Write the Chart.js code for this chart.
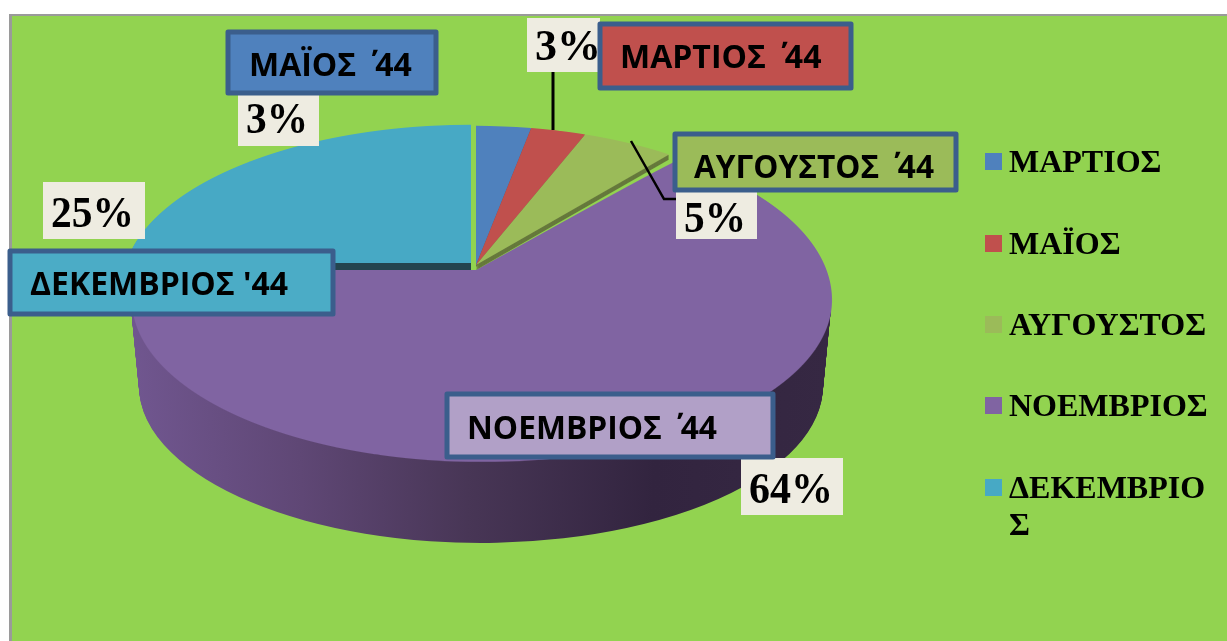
<!DOCTYPE html>
<html><head><meta charset="utf-8">
<style>html,body{margin:0;padding:0;background:#fff}canvas{display:block}</style>
<script src="https://cdn.jsdelivr.net/npm/chart.js@4"></script>
</head><body><canvas id="c" width="1227" height="641"></canvas>
<script>
const categories = ['ΜΑΡΤΙΟΣ','ΜΑΪΟΣ','ΑΥΓΟΥΣΤΟΣ','ΝΟΕΜΒΡΙΟΣ','ΔΕΚΕΜΒΡΙΟΣ'];
const calloutTexts = ['ΜΑΡΤΙΟΣ ΄\u2009\u200944','ΜΑΪΟΣ ΄\u2009\u200944','ΑΥΓΟΥΣΤΟΣ ΄\u2009\u200944','ΝΟΕΜΒΡΙΟΣ ΄\u2009\u200944',"ΔΕΚΕΜΒΡΙΟΣ '44"];
const percentages = [3,3,5,64,25];
const sliceColors = ['#4F81BD','#C0504D','#9BBB59','#8064A2','#47A9C5'];
const wallColors = ['#3c6591','#8f3a38','#66793C','#8064A2','#24454F'];
const legendLines = [['ΜΑΡΤΙΟΣ'],['ΜΑΪΟΣ'],['ΑΥΓΟΥΣΤΟΣ'],['ΝΟΕΜΒΡΙΟΣ'],['ΔΕΚΕΜΒΡΙΟ','Σ']];

const upper = {ax:476,ay:265,A:338,B:160,a:0.15};
const sliceGeom = [
  {...upper,wall:2},{...upper,wall:2},{...upper,wall:5},
  {ax:480,ay:270,A:341,B:149,a:0.223,wall:0,up:{ax:476,A:338,B:160,a:0.15},rim:{cx:482,cy:300,rx:350,ryUp:170,ryDown:162}},
  {ax:471,ay:263,A:345,B:159,a:0.15,wall:7}
];
const percentBoxes = [
  {x:527,y:18,w:73,h:54,tx:535,ty:60,tw:66},
  {x:238,y:95,w:81,h:51,tx:246,ty:133,tw:62},
  {x:676,y:190,w:81,h:49,tx:684,ty:232,tw:62},
  {x:741,y:458,w:102,h:57,tx:749,ty:503,tw:84},
  {x:43,y:182,w:102,h:57,tx:51,ty:227,tw:83}
];
const callouts = [
  {x:600,y:24,w:251,h:64,tx:620,ty:69,tw:203,fill:'#C0504D'},
  {x:228,y:32,w:208,h:61,tx:249,ty:77,tw:165,fill:'#4F81BD'},
  {x:675,y:134,w:281,h:56,tx:694,ty:179,tw:240,fill:'#9BBB59'},
  {x:447,y:394,w:326,h:63,tx:467,ty:440,tw:250,fill:'#B1A0C7'},
  {x:10,y:251,w:323,h:63,tx:30,ty:296,tw:258,fill:'#4BACC6'}
];
const legendY = [153,235,316,397,479];

function withColor(el,color,fn){
  const base=el.options;
  el.options=Object.assign({},base,{backgroundColor:color});
  fn(); el.options=base;
}
function drawProjected(ctx,el,g,shift,W){
  const R=el.outerRadius,px=el.x,py=el.y,u=g.up;
  const topM=u||g;
  const top=Math.floor(g.ay-topM.B/(1+topM.a))-1, bot=Math.ceil(g.ay+g.B/(1-g.a))+1;
  for(let row=top;row<=bot;row++){
    const dY=row+0.5-g.ay, m=(u&&dY<0)?u:g;
    const v=dY/(m.B+m.a*dY), w=1-m.a*v;
    let sx=m.A/(w*R), ax=m.ax;
    const sy=m.B/(w*w*R);
    if(g.rim){
      const r=g.rim, e=(row+0.5-r.cy)/(row<r.cy?r.ryUp:r.ryDown);
      const half0=r.rx*Math.sqrt(Math.max(0,1-e*e));
      ax=dY<0?u.ax:u.ax+(r.cx-u.ax)*Math.min(1,dY/30);
      const uu=Math.sqrt(Math.max(0.0025,1-v*v));
      sx=Math.min((half0+(r.cx-ax))/uu/R, 1.6*m.A/R);
    }
    ctx.save();
    ctx.beginPath();ctx.rect(0,row+shift,W,1);ctx.clip();
    ctx.setTransform(sx,0,0,sy,ax-px*sx,row+0.5+shift-(py+R*v)*sy);
    el.draw(ctx);
    ctx.restore();
  }
}
const scene = {
  id:'scene',
  beforeDraw(chart){
    const c=chart.ctx,W=chart.width,H=chart.height;
    c.save();
    c.fillStyle='#fff';c.fillRect(0,0,W,H);
    c.fillStyle='#9a9a9a';c.fillRect(9,14,W-9,H-14);
    c.fillStyle='#92D350';c.fillRect(12,16,W-12,H-16);
    c.restore();
  },
  beforeDatasetsDraw(chart){
    const c=chart.ctx,W=chart.width,H=chart.height;
    const arcs=chart.getDatasetMeta(0).data;
    const p=arcs[3],R=p.outerRadius;
    const grad=c.createLinearGradient(p.x-R,0,p.x+R,0);
    grad.addColorStop(0,'#70568f');grad.addColorStop(0.24,'#5f4775');
    grad.addColorStop(0.48,'#483656');grad.addColorStop(0.75,'#32243f');grad.addColorStop(1,'#362843');
    c.save();
    c.beginPath();c.rect(0,312,W,H-312);c.clip();
    withColor(p,grad,()=>{
      for(let d=81;d>=1;d--){
        const rx=350-8*d/81, ry=157, sx=rx/R, sy=ry/R;
        c.save();
        c.setTransform(sx,0,0,sy,481-p.x*sx,305+d-p.y*sy);
        p.draw(c);
        c.restore();
      }
    });
    c.restore();
    drawProjected(c,p,sliceGeom[3],0,W);
    [4,0,1,2].forEach(i=>{
      const el=arcs[i],g=sliceGeom[i];
      withColor(el,wallColors[i],()=>{
        for(let d=g.wall;d>=1;d--) drawProjected(c,el,g,d,W);
      });
      drawProjected(c,el,g,0,W);
    });
    return false;
  },
  afterDraw(chart){
    const c=chart.ctx;
    c.save();
    c.strokeStyle='#000';c.lineWidth=3;
    c.beginPath();c.moveTo(553,72);c.lineTo(553,130);c.stroke();
    c.lineWidth=2.5;
    c.beginPath();c.moveTo(631,141);c.lineTo(664,199);c.lineTo(677,199);c.stroke();
    c.textBaseline='alphabetic';c.textAlign='left';
    percentages.forEach((v,i)=>{
      const b=percentBoxes[i];
      c.fillStyle='#EEECE1';c.fillRect(b.x,b.y,b.w,b.h);
      c.fillStyle='#000';c.font='bold 45px "Liberation Serif"';
      c.fillText(v+'%',b.tx,b.ty,b.tw);
    });
    calloutTexts.forEach((t,i)=>{
      const b=callouts[i];
      c.fillStyle=b.fill;c.fillRect(b.x,b.y,b.w,b.h);
      c.strokeStyle='#3B5E8C';c.lineWidth=5;c.lineJoin='round';c.strokeRect(b.x,b.y,b.w,b.h);
      c.fillStyle='#000';c.font='bold 32px "Open Sans"';
      c.fillText(t,b.tx,b.ty-1,b.tw);
    });
    legendLines.forEach((lines,i)=>{
      const y=legendY[i];
      c.fillStyle=sliceColors[i];c.fillRect(985,y,17,17);
      c.fillStyle='#000';c.font='bold 32px "Liberation Serif"';
      lines.forEach((l,j)=>c.fillText(l,1009,y+19+j*37));
    });
    c.restore();
  }
};
new Chart(document.getElementById('c'),{
  type:'pie',
  data:{labels:categories,datasets:[{data:percentages,backgroundColor:sliceColors,borderWidth:0}]},
  options:{responsive:false,animation:false,
    plugins:{legend:{display:false},tooltip:{enabled:false},title:{display:false}}},
  plugins:[scene]
});
</script></body></html>
